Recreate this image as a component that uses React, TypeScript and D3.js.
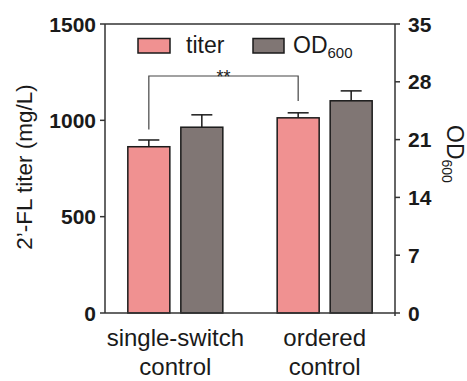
import React from "react";
import * as d3 from "d3";

const categories = ["single-switch control", "ordered control"];
const categoryLines = [["single-switch", "control"], ["ordered", "control"]];
const titerValues = [863, 1013];
const titerErrors = [35, 26];
const odValues = [22.5, 25.7];
const odErrors = [1.5, 1.2];
const leftTicks = [0, 500, 1000, 1500];
const rightTicks = [0, 7, 14, 21, 28, 35];
const seriesNames = ["titer", "OD600"];
const sigLabel = "**";
const sigLevels = [1230, 953, 1100];

const W = 467, H = 381;
const L = 105, R = 395, T = 24, B = 313;
const PINK = "#F09191";
const GREY = "#807674";
const INK = "#1a1a1a";
const AX = "#333";
const FONT = "'Liberation Sans', Arial, Helvetica, sans-serif";

export default function App() {
  const yL = d3.scaleLinear().domain([0, 1500]).range([B, T]);
  const yR = d3.scaleLinear().domain([0, 35]).range([B, T]);
  const x = d3.scalePoint<string>().domain(categories).range([L, R]).padding(0.471);
  const inner = d3.scaleBand<string>().domain(seriesNames).range([-47.5, 47.5]).paddingInner(0.2075);
  const bw = inner.bandwidth();
  const cap = 10.5;

  const bars: any[] = [];
  categories.forEach((c, i) => {
    const cx = x(c)!;
    const x0 = cx + inner("titer")!;
    const x1 = cx + inner("OD600")!;
    bars.push({ x: x0, v: titerValues[i], e: titerErrors[i], y: yL, fill: PINK, key: `t${i}` });
    bars.push({ x: x1, v: odValues[i], e: odErrors[i], y: yR, fill: GREY, key: `o${i}` });
  });

  const c1 = x(categories[0])! + inner("titer")! + bw / 2;
  const c2 = x(categories[1])! + inner("titer")! + bw / 2;

  return (
    <svg width={W} height={H} style={{ position: "absolute", left: 0, top: 0, background: "#fff" }} fontFamily={FONT}>
      {bars.map((b) => (
        <g key={b.key}>
          <line x1={b.x + bw / 2} x2={b.x + bw / 2} y1={b.y(b.v)} y2={b.y(b.v + b.e)} stroke={INK} strokeWidth={1.5} />
          <line x1={b.x + bw / 2 - cap} x2={b.x + bw / 2 + cap} y1={b.y(b.v + b.e)} y2={b.y(b.v + b.e)} stroke={INK} strokeWidth={1.5} />
          <rect x={b.x} y={b.y(b.v)} width={bw} height={B - b.y(b.v)} fill={b.fill} stroke={INK} strokeWidth={1.5} />
        </g>
      ))}
      {/* significance bracket */}
      <path d={`M${c1},${yL(sigLevels[1])}V${yL(sigLevels[0])}H${c2}V${yL(sigLevels[2])}`} fill="none" stroke="#444" strokeWidth={1.2} />
      <text x={(c1 + c2) / 2} y={yL(sigLevels[0]) + 7} textAnchor="middle" fontSize={18} fill={INK}>{sigLabel}</text>

      {/* frame */}
      <line x1={L} x2={R} y1={T} y2={T} stroke={AX} strokeWidth={1.5} />
      <line x1={L} x2={R} y1={B} y2={B} stroke={AX} strokeWidth={1.5} />
      <line x1={L} x2={L} y1={T} y2={B} stroke={AX} strokeWidth={1.5} />
      <line x1={R} x2={R} y1={T} y2={B + 3} stroke={AX} strokeWidth={1.5} />

      {leftTicks.map((t) => (
        <g key={`l${t}`}>
          <line x1={L - 5} x2={L} y1={yL(t)} y2={yL(t)} stroke={AX} strokeWidth={1.5} />
          <text x={L - 9} y={yL(t)} dy="0.36em" textAnchor="end" fontSize={21} fontWeight="bold" fill={INK}>{t}</text>
        </g>
      ))}
      {rightTicks.map((t) => (
        <g key={`r${t}`}>
          <line x1={R} x2={R + 5} y1={yR(t)} y2={yR(t)} stroke={AX} strokeWidth={1.5} />
          <text x={R + 13} y={yR(t)} dy="0.36em" textAnchor="start" fontSize={21} fontWeight="bold" fill={INK}>{t}</text>
        </g>
      ))}

      <text transform={`translate(32,167) rotate(-90)`} textAnchor="middle" fontSize={22.5} fill={INK}>2’-FL titer (mg/L)</text>
      <text transform={`translate(447,125) rotate(90)`} fontSize={23} fill={INK}>
        OD<tspan fontSize={14} dy={5}>600</tspan>
      </text>

      {categoryLines.map((lines, i) => (
        <text key={`c${i}`} textAnchor="middle" fontSize={24} fill={INK}>
          {lines.map((ln, j) => (
            <tspan key={j} x={x(categories[i])!} y={346 + j * 29}>{ln}</tspan>
          ))}
        </text>
      ))}

      {/* legend */}
      <rect x={138} y={38.5} width={32} height={14.5} fill={PINK} stroke={INK} strokeWidth={1.5} />
      <text x={186} y={53} fontSize={23} fill={INK}>{seriesNames[0]}</text>
      <rect x={253} y={38.5} width={31} height={14.5} fill={GREY} stroke={INK} strokeWidth={1.5} />
      <text x={293} y={53} fontSize={23} fill={INK}>OD<tspan fontSize={15} dy={5}>600</tspan></text>
    </svg>
  );
}
